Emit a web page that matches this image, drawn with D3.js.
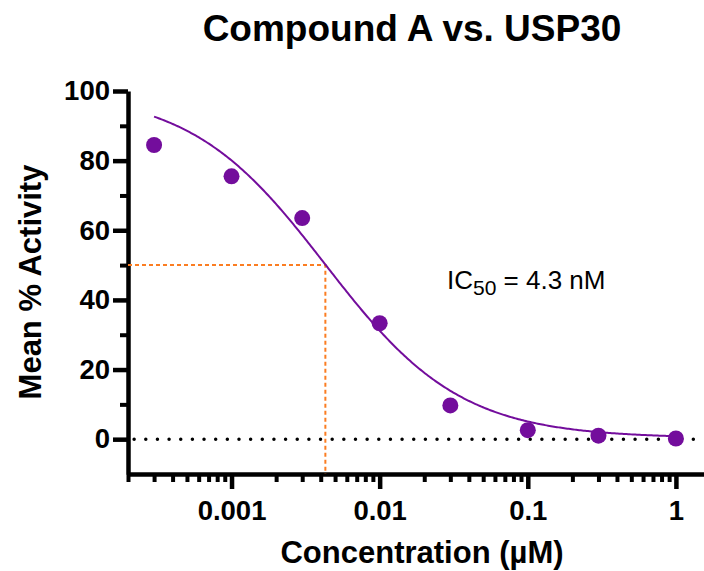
<!DOCTYPE html>
<html lang="en">
<head>
  <meta charset="UTF-8" />
  <title>Compound A vs. USP30</title>
  <script src="https://d3js.org/d3.v7.min.js"></script>
  <style>
    body {
      margin: 0;
      padding: 0;
      background-color: #fff;
    }

    svg {
      display: block;
      font-family: Arial, "Liberation Sans", sans-serif;
    }

    .axis path,
    .axis line {
      stroke: #000;
    }

    .axis text {
      font-size: 27.5px;
      font-weight: bold;
      fill: #000;
    }
  </style>
</head>
<body>
  <svg width="704" height="571"></svg>

  <script>
    // concentrations (µM) and mean % activity
    const concentrations = [0.0003, 0.001, 0.003, 0.01, 0.03, 0.1, 0.3, 1];
    const activity = [84.5, 75.5, 63.5, 33.3, 9.7, 2.6, 1.0, 0.2];

    // four-parameter fit
    const fitTop = 100;
    const fitBottom = 0.3;
    const ic50 = 0.0043;
    const hillSlope = 0.95;

    const xMajorTicks = [0.001, 0.01, 0.1, 1];
    const xTickLabels = ["0.001", "0.01", "0.1", "1"];
    const yMajorTicks = [0, 20, 40, 60, 80, 100];
    const yMinorTicks = [10, 30, 50, 70, 90];

    const purple = "#730d9c";
    const orange = "#fb7d22";

    const svg = d3.select("svg");

    const x = d3.scaleLog()
      .domain([0.0002, 2])
      .range([128, 720.5]);

    const y = d3.scaleLinear()
      .domain([-10, 100])
      .range([474, 91]);

    const fit = c => fitBottom + (fitTop - fitBottom) / (1 + Math.pow(c / ic50, hillSlope));

    // minor ticks on log axis: 2..9 in every decade inside the domain
    const xMinorTicks = [];
    [0.0001, 0.001, 0.01, 0.1, 1].forEach(dec => {
      for (let k = 2; k <= 9; k++) {
        const v = dec * k;
        if (v >= 0.0002 && v <= 1.9) xMinorTicks.push(v);
      }
    });

    // title
    svg.append("text")
      .attr("x", 412)
      .attr("y", 41)
      .attr("text-anchor", "middle")
      .style("font-size", "37px")
      .style("font-weight", "bold")
      .text("Compound A vs. USP30");

    // y axis
    svg.append("g")
      .attr("class", "axis")
      .attr("transform", "translate(128,0)")
      .call(d3.axisLeft(y).tickValues(yMinorTicks).tickSize(8).tickFormat(""))
      .call(g => g.select(".domain").remove())
      .call(g => g.selectAll("line").attr("stroke-width", 4));

    const yAxis = svg.append("g")
      .attr("class", "axis")
      .attr("transform", "translate(128,0)")
      .call(d3.axisLeft(y).tickValues(yMajorTicks).tickSize(15).tickSizeOuter(0).tickPadding(3));
    yAxis.select(".domain").attr("stroke-width", 4.5);
    yAxis.selectAll("line").attr("stroke-width", 4.5);

    // x axis
    svg.append("g")
      .attr("class", "axis")
      .attr("transform", "translate(0,474)")
      .call(d3.axisBottom(x).tickValues(xMinorTicks).tickSize(8).tickFormat(""))
      .call(g => g.select(".domain").remove())
      .call(g => g.selectAll("line").attr("stroke-width", 4));

    const xAxis = svg.append("g")
      .attr("class", "axis")
      .attr("transform", "translate(0,474)")
      .call(d3.axisBottom(x).tickValues(xMajorTicks).tickSize(15).tickSizeOuter(0).tickPadding(11)
        .tickFormat((d, i) => xTickLabels[i]));
    xAxis.select(".domain").attr("stroke-width", 4.5);
    xAxis.selectAll("line").attr("stroke-width", 4.5);

    // axis titles
    svg.append("text")
      .attr("transform", "translate(41,282) rotate(-90)")
      .attr("text-anchor", "middle")
      .style("font-size", "31px")
      .style("font-weight", "bold")
      .text("Mean % Activity");

    svg.append("text")
      .attr("x", 422)
      .attr("y", 563)
      .attr("text-anchor", "middle")
      .style("font-size", "31px")
      .style("font-weight", "bold")
      .text("Concentration (µM)");

    // zero line
    svg.append("line")
      .attr("x1", x(0.00022))
      .attr("x2", x(1.43))
      .attr("y1", y(0))
      .attr("y2", y(0))
      .attr("stroke", "#000")
      .attr("stroke-width", 3.5)
      .attr("stroke-linecap", "round")
      .attr("stroke-dasharray", "0 11.65");

    // IC50 guides
    svg.append("path")
      .attr("d", `M${x(0.0002)},${y(50)} H${x(ic50)} V${y(-10)}`)
      .attr("fill", "none")
      .attr("stroke", orange)
      .attr("stroke-width", 2)
      .attr("stroke-dasharray", "4 3");

    // fitted curve
    const curvePts = d3.range(-3.523, 0.0001, 0.01).map(l => Math.pow(10, l));
    svg.append("path")
      .datum(curvePts)
      .attr("d", d3.line().x(d => x(d)).y(d => y(fit(d))))
      .attr("fill", "none")
      .attr("stroke", purple)
      .attr("stroke-width", 2);

    // points
    svg.selectAll("circle.pt")
      .data(concentrations)
      .join("circle")
      .attr("class", "pt")
      .attr("cx", d => x(d))
      .attr("cy", (d, i) => y(activity[i]))
      .attr("r", 8)
      .attr("fill", purple);

    // IC50 label
    const lab = svg.append("text")
      .attr("x", 447)
      .attr("y", 289)
      .style("font-size", "26px");
    lab.append("tspan").text("IC");
    lab.append("tspan").attr("dy", 6).style("font-size", "21px").text("50");
    lab.append("tspan").attr("dy", -6).text(" = 4.3 nM");
  </script>
</body>
</html>
